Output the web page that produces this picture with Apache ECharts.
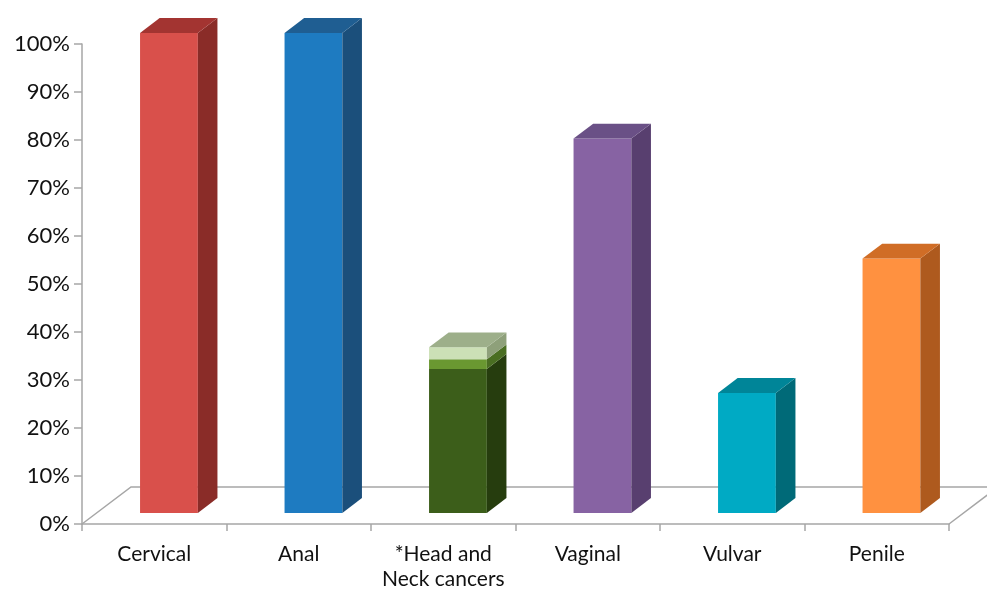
<!DOCTYPE html>
<html>
<head>
<meta charset="utf-8">
<script src="https://cdn.jsdelivr.net/npm/echarts@6/dist/echarts.min.js"></script>
<style>
  html, body { margin: 0; padding: 0; background: #fff; }
  #chart { width: 987px; height: 592px; }
</style>
</head>
<body>
<div id="chart"></div>
<script>
// data
var categories = ['Cervical', 'Anal', '*Head and\nNeck cancers', 'Vaginal', 'Vulvar', 'Penile'];
var mainValues = [100, 100, 30, 78, 25, 53];
var midValues = [0, 0, 2, 0, 0, 0];
var upperValues = [0, 0, 2.5, 0, 0, 0];
var yTicks = [0, 10, 20, 30, 40, 50, 60, 70, 80, 90, 100];

// face colours: front, side, top
var mainColors = [
  ['#D9504B', '#8A2C28', '#A33431'],
  ['#1E7BC1', '#1B4F7B', '#1F5E92'],
  ['#3C5E1A', '#263D0E', '#4E6E2C'],
  ['#8763A3', '#583F6F', '#6A5086'],
  ['#00AAC4', '#006A78', '#008598'],
  ['#FF9140', '#AE5A1E', '#D06D26']
];
var midColors = ['#6A9831', '#4A6E22', '#7FA64E'];
var upperColors = ['#CCE0B6', '#8EA07A', '#9DAF8A'];

// 3d depth of the floor (pixels), bars sit in its middle
var DX = 49, DY = -37;
var FX = DX * 0.3, FY = DY * 0.3;
var BX = DX * 0.4, BY = DY * 0.4;

var chart = echarts.init(document.getElementById('chart'));

function buildData(values, lower, higher) {
  return values.map(function (v, i) {
    var base = 0;
    lower.forEach(function (arr) { base += arr[i]; });
    var above = 0;
    higher.forEach(function (arr) { above += arr[i]; });
    return [i, base, base + v, above > 0 ? 0 : 1];
  }).filter(function (d) { return d[2] > d[1]; });
}

function makeRender(colorFn) {
  return function (params, api) {
    var cat = api.value(0);
    var p0 = api.coord([cat, api.value(1)]);
    var p1 = api.coord([cat, api.value(2)]);
    var isTop = api.value(3);
    var w = api.size([1, 0])[0] * 0.4;
    var xl = p1[0] - w / 2 + FX, xr = xl + w;
    var yt = p1[1] + FY, yb = p0[1] + FY;
    var c = colorFn(cat);
    var kids = [
      { type: 'rect', shape: { x: xl, y: yt, width: w, height: yb - yt }, style: { fill: c[0] } },
      { type: 'polygon', shape: { points: [[xr, yt], [xr + BX, yt + BY], [xr + BX, yb + BY], [xr, yb]] }, style: { fill: c[1] } }
    ];
    if (isTop) {
      kids.push({ type: 'polygon', shape: { points: [[xl, yt], [xr, yt], [xr + BX, yt + BY], [xl + BX, yt + BY]] }, style: { fill: c[2] } });
    }
    return { type: 'group', children: kids };
  };
}

chart.setOption({
  animation: false,
  grid: { left: 82, right: 38, top: 44, bottom: 66 },
  xAxis: {
    type: 'category',
    data: categories,
    boundaryGap: true,
    axisLine: { lineStyle: { color: '#A6A6A6', width: 1.5 } },
    axisTick: { show: true, length: 7, lineStyle: { color: '#A6A6A6', width: 1.5 } },
    axisLabel: { interval: 0, margin: 18, fontFamily: 'Lato', fontSize: 21, color: '#111', lineHeight: 25 }
  },
  yAxis: {
    type: 'value',
    min: yTicks[0],
    max: yTicks[yTicks.length - 1],
    interval: 10,
    axisLine: { show: true, lineStyle: { color: '#A6A6A6', width: 1.5 } },
    axisTick: { show: true, length: 8, lineStyle: { color: '#A6A6A6', width: 1.5 } },
    splitLine: { show: false },
    axisLabel: { margin: 12, fontFamily: 'Lato', fontSize: 22, color: '#111', formatter: '{value}%' }
  },
  series: [
    {
      type: 'custom',
      clip: false,
      z: 1,
      data: [[0]],
      renderItem: function (params, api) {
        var cs = params.coordSys;
        var x0 = cs.x, x1 = cs.x + cs.width, y0 = cs.y + cs.height;
        return {
          type: 'polyline',
          shape: { points: [[x0, y0], [x0 + DX, y0 + DY], [x1 + DX, y0 + DY], [x1, y0]] },
          style: { stroke: '#A6A6A6', lineWidth: 1.5, fill: null }
        };
      }
    },
    {
      type: 'custom', clip: false, z: 3,
      data: buildData(mainValues, [], [midValues, upperValues]),
      renderItem: makeRender(function (i) { return mainColors[i]; })
    },
    {
      type: 'custom', clip: false, z: 3,
      data: buildData(midValues, [mainValues], [upperValues]),
      renderItem: makeRender(function () { return midColors; })
    },
    {
      type: 'custom', clip: false, z: 3,
      data: buildData(upperValues, [mainValues, midValues], []),
      renderItem: makeRender(function () { return upperColors; })
    }
  ]
});
</script>
</body>
</html>
